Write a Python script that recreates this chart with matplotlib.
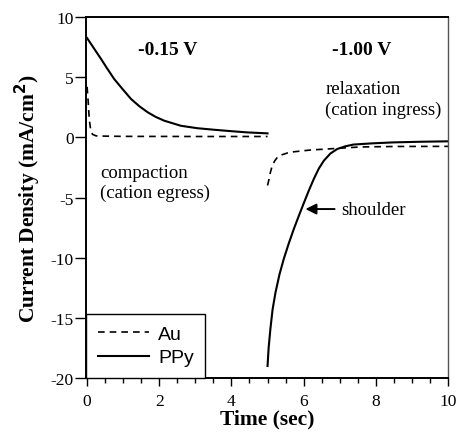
import matplotlib.pyplot as plt
from matplotlib.ticker import MultipleLocator

# ── data ────────────────────────────────────────────────────────────────────
t_ppy_a = [0.0, 0.2, 0.39, 0.55, 0.75, 1.0, 1.22, 1.45, 1.68, 1.9, 2.14, 2.6, 3.05,
           3.52, 4.0, 4.44, 5.0]
j_ppy_a = [8.25, 7.35, 6.5, 5.75, 4.85, 3.95, 3.18, 2.58, 2.08, 1.7, 1.38, 0.96, 0.76,
           0.63, 0.51, 0.41, 0.33]

t_au_a = [0.0, 0.03, 0.06, 0.1, 0.15, 0.25, 0.5, 1.0, 3.0, 5.0]
j_au_a = [4.2, 3.0, 1.5, 0.6, 0.25, 0.12, 0.1, 0.08, 0.07, 0.07]

t_ppy_b = [5.0, 5.03, 5.08, 5.14, 5.22, 5.33, 5.45, 5.59, 5.73, 5.87, 6.0, 6.14, 6.28,
           6.42, 6.56, 6.74, 6.93, 7.15, 7.38, 7.9, 8.49, 9.2, 10.0]
j_ppy_b = [-19.0, -17.5, -15.9, -14.3, -12.9, -11.4, -10.1, -8.8, -7.6, -6.5, -5.5, -4.45,
           -3.47, -2.6, -1.94, -1.35, -0.97, -0.75, -0.6, -0.5, -0.42, -0.37, -0.33]

t_au_b = [5.0, 5.04, 5.08, 5.13, 5.2, 5.27, 5.4, 5.55, 5.73, 6.2, 6.65, 7.57, 8.5, 10.0]
j_au_b = [-4.0, -3.5, -2.9, -2.36, -1.95, -1.67, -1.45, -1.3, -1.2, -1.05, -0.97, -0.8,
          -0.76, -0.75]

serif = "Liberation Serif"
plt.rcParams["axes.unicode_minus"] = False

fig = plt.figure(figsize=(4.58, 4.39), dpi=100)
ax = fig.add_axes([86 / 458, 1 - 379 / 439, (448 - 86) / 458, (379 - 18) / 439])

ax.plot(t_au_a, j_au_a, color="black", lw=1.2, ls=(0, (4, 3)), label="Au")
ax.plot(t_ppy_a, j_ppy_a, color="black", lw=1.5, label="PPy")
ax.plot(t_au_b, j_au_b, color="black", lw=1.2, ls=(0, (4, 3)))
ax.plot(t_ppy_b, j_ppy_b, color="black", lw=1.5)

ax.set_xlim(-0.03, 10)
ax.set_ylim(-20, 10)
ax.xaxis.set_major_locator(MultipleLocator(2))
ax.xaxis.set_minor_locator(MultipleLocator(0.5))
ax.yaxis.set_major_locator(MultipleLocator(5))
ax.tick_params(which="major", direction="out", width=1, labelsize=12.5)
ax.tick_params(axis="x", which="major", length=5.5, pad=5)
ax.tick_params(axis="y", which="major", length=8, pad=1)
ax.tick_params(which="minor", direction="out", length=3.5, width=1)
for lab in ax.get_xticklabels() + ax.get_yticklabels():
    lab.set_fontfamily(serif)

for side in ["left", "bottom", "top"]:
    ax.spines[side].set_linewidth(1.4)
ax.spines["right"].set_linewidth(1.0)
ax.spines["right"].set_color("#555555")

ax.set_xlabel("Time (sec)", fontfamily=serif, fontweight="bold", fontsize=15.5, labelpad=0)
ax.set_ylabel("Current Density (mA/cm$^\\mathbf{2}$)", fontfamily=serif,
              fontweight="bold", fontsize=15.5, labelpad=5)

ax.text(2.23, 7.34, "-0.15 V", fontfamily=serif, fontweight="bold", fontsize=14,
        ha="center", va="center")
ax.text(7.62, 7.34, "-1.00 V", fontfamily=serif, fontweight="bold", fontsize=14,
        ha="center", va="center")
ax.text(6.6, 4.75, "relaxation\n(cation ingress)", fontfamily=serif, fontsize=13.5,
        ha="left", va="top", linespacing=1.25)
ax.text(0.36, -2.2, "compaction\n(cation egress)", fontfamily=serif, fontsize=13.5,
        ha="left", va="top", linespacing=1.25)
ax.annotate("shoulder", xy=(6.05, -5.96), xytext=(7.05, -5.96), fontfamily=serif,
            fontsize=13.5, va="center", ha="left",
            arrowprops=dict(arrowstyle="-|>", color="black", lw=1.4, mutation_scale=16,
                            shrinkA=3, shrinkB=0))

leg = ax.legend(loc="lower left", borderaxespad=0, fancybox=False, framealpha=1,
                edgecolor="black", prop={"family": "Liberation Sans", "size": 14},
                handlelength=2.65, handletextpad=0.45, borderpad=0.6, labelspacing=0.3)
leg.get_frame().set_linewidth(1.0)

plt.savefig("out.png", dpi=100)
